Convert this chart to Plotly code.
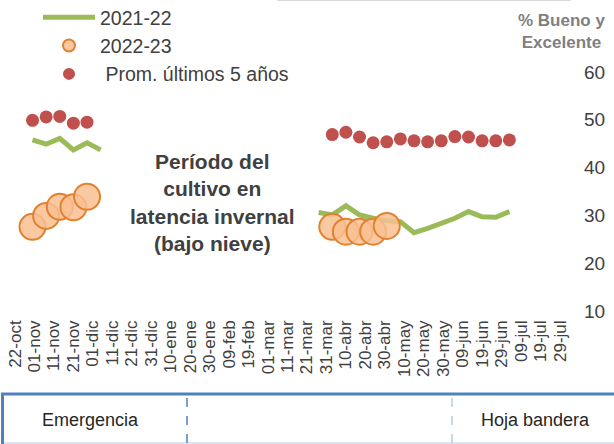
import pandas as pd
import plotly.graph_objects as go

# ---------------- data ----------------
tick_dates = ["2022-10-22", "2022-11-01", "2022-11-11", "2022-11-21", "2022-12-01", "2022-12-11",
              "2022-12-21", "2022-12-31", "2023-01-10", "2023-01-20", "2023-01-30", "2023-02-09",
              "2023-02-19", "2023-03-01", "2023-03-11", "2023-03-21", "2023-03-31", "2023-04-10",
              "2023-04-20", "2023-04-30", "2023-05-10", "2023-05-20", "2023-05-30", "2023-06-09",
              "2023-06-19", "2023-06-29", "2023-07-09", "2023-07-19", "2023-07-29"]
tick_labels = ["22-oct", "01-nov", "11-nov", "21-nov", "01-dic", "11-dic", "21-dic", "31-dic",
               "10-ene", "20-ene", "30-ene", "09-feb", "19-feb", "01-mar", "11-mar", "21-mar",
               "31-mar", "10-abr", "20-abr", "30-abr", "10-may", "20-may", "30-may", "09-jun",
               "19-jun", "29-jun", "09-jul", "19-jul", "29-jul"]

# 2021-22 (green line)
green_fall_dates = ["2022-10-31", "2022-11-07", "2022-11-14", "2022-11-21", "2022-11-28", "2022-12-05"]
green_fall = [45.8, 44.9, 46.1, 43.7, 45.2, 43.7]
green_spring_dates = ["2023-03-27", "2023-04-03", "2023-04-10", "2023-04-17", "2023-04-24",
                      "2023-05-01", "2023-05-08", "2023-05-15", "2023-05-22", "2023-05-29",
                      "2023-06-05", "2023-06-12", "2023-06-19", "2023-06-26", "2023-07-03"]
green_spring = [30.6, 30.1, 32.0, 30.1, 29.4, 28.9, 28.7, 26.4, 27.3, 28.4, 29.4, 30.8, 29.7, 29.6, 30.8]

# 2022-23 (orange circles)
orange_fall_dates = ["2022-10-31", "2022-11-07", "2022-11-14", "2022-11-21", "2022-11-28"]
orange_fall = [27.6, 29.9, 31.8, 31.7, 33.9]
orange_spring_dates = ["2023-04-03", "2023-04-10", "2023-04-17", "2023-04-24", "2023-05-01"]
orange_spring = [27.6, 26.6, 26.6, 26.6, 27.8]

# Prom. últimos 5 años (red dots)
red_fall_dates = ["2022-10-31", "2022-11-07", "2022-11-14", "2022-11-21", "2022-11-28"]
red_fall = [49.9, 50.6, 50.7, 49.3, 49.5]
red_spring_dates = ["2023-04-03", "2023-04-10", "2023-04-17", "2023-04-24", "2023-05-01",
                    "2023-05-08", "2023-05-15", "2023-05-22", "2023-05-29", "2023-06-05",
                    "2023-06-12", "2023-06-19", "2023-06-26", "2023-07-03"]
red_spring = [46.9, 47.4, 46.4, 45.2, 45.4, 46.0, 45.6, 45.4, 45.6, 46.5, 46.4, 45.6, 45.6, 45.8]

y_ticks = [10, 20, 30, 40, 50, 60]

# ---------------- layout helpers ----------------
W, H = 614, 444
PL, PR, PT, PB = 5, 575, 72, 311      # plot area in pixels
SANS = "Liberation Sans, Arial, sans-serif"


def px(x):
    return (x - PL) / (PR - PL)


def py(y):
    return (PB - y) / (PB - PT)


# x range: first tick at 15px, last tick at 560px
t0 = pd.Timestamp(tick_dates[0])
t1 = pd.Timestamp(tick_dates[-1])
span_days = (t1 - t0) / pd.Timedelta(days=1)
ppd = (560 - 15) / span_days
x_start = t0 - pd.Timedelta(days=(15 - PL) / ppd)
x_end = t0 + pd.Timedelta(days=(PR - 15) / ppd)

GREEN = "#9BBB59"
ORANGE_FILL = "rgba(249,192,146,0.85)"
ORANGE_LINE = "#E0822F"
RED = "#C0504D"

fig = go.Figure()

fig.add_trace(go.Scatter(x=green_fall_dates, y=green_fall, mode="lines", name="2021-22",
                         legendgroup="g", line=dict(color=GREEN, width=5)))
fig.add_trace(go.Scatter(x=green_spring_dates, y=green_spring, mode="lines", name="2021-22",
                         legendgroup="g", showlegend=False, line=dict(color=GREEN, width=5)))

fig.add_trace(go.Scatter(x=orange_fall_dates, y=orange_fall, mode="markers", name="2022-23",
                         legendgroup="o",
                         marker=dict(size=26, color=ORANGE_FILL, line=dict(color=ORANGE_LINE, width=2))))
fig.add_trace(go.Scatter(x=orange_spring_dates, y=orange_spring, mode="markers", name="2022-23",
                         legendgroup="o", showlegend=False,
                         marker=dict(size=26, color=ORANGE_FILL, line=dict(color=ORANGE_LINE, width=2))))

fig.add_trace(go.Scatter(x=red_fall_dates, y=red_fall, mode="markers", name=" Prom. últimos 5 años",
                         legendgroup="r", marker=dict(size=13, color=RED)))
fig.add_trace(go.Scatter(x=red_spring_dates, y=red_spring, mode="markers", name=" Prom. últimos 5 años",
                         legendgroup="r", showlegend=False, marker=dict(size=13, color=RED)))

shapes = [
    # faint line at top
    dict(type="line", xref="paper", yref="paper", x0=px(277), x1=px(571), y0=py(0.5), y1=py(0.5),
         line=dict(color="#D9D9D9", width=1)),
    # bottom phase band
    dict(type="line", xref="paper", yref="paper", x0=px(1), x1=px(620), y0=py(394), y1=py(394),
         line=dict(color="#4F81BD", width=3)),
    dict(type="line", xref="paper", yref="paper", x0=px(2.5), x1=px(2.5), y0=py(393), y1=py(450),
         line=dict(color="#4F81BD", width=3)),
    dict(type="line", xref="paper", yref="paper", x0=px(4), x1=px(620), y0=py(443), y1=py(443),
         line=dict(color="#B8CCE4", width=1)),
    dict(type="line", xref="paper", yref="paper", x0=px(187), x1=px(187), y0=py(398), y1=py(450),
         line=dict(color="#4F81BD", width=1.5, dash="dash")),
    dict(type="line", xref="paper", yref="paper", x0=px(452), x1=px(452), y0=py(398), y1=py(450),
         line=dict(color="#B8CCE4", width=1.5, dash="dash")),
]

annotations = [
    dict(text="Período del<br>cultivo en<br>latencia invernal<br>(bajo nieve)", xref="paper", yref="paper",
         x=px(212), y=py(203), showarrow=False, xanchor="center", yanchor="middle", align="center",
         font=dict(family=SANS, size=21, color="#404040", weight="bold")),
    dict(text="% Bueno y<br>Excelente", xref="paper", yref="paper", x=px(561), y=py(31),
         showarrow=False, xanchor="center", yanchor="middle", align="center",
         font=dict(family=SANS, size=17, color="#7F7F7F", weight="bold")),
    dict(text="Emergencia", xref="paper", yref="paper", x=px(90), y=py(420), showarrow=False,
         xanchor="center", yanchor="middle", font=dict(family=SANS, size=18, color="#262626")),
    dict(text="Hoja bandera", xref="paper", yref="paper", x=px(535), y=py(420), showarrow=False,
         xanchor="center", yanchor="middle", font=dict(family=SANS, size=18, color="#262626")),
]

fig.update_layout(
    width=W, height=H,
    margin=dict(l=PL, r=W - PR, t=PT, b=H - PB, pad=0, autoexpand=False),
    paper_bgcolor="white", plot_bgcolor="white",
    showlegend=True,
    legend=dict(x=px(38), y=py(-2), xanchor="left", yanchor="top", orientation="v",
                font=dict(family=SANS, size=19.5, color="#404040"),
                bgcolor="rgba(0,0,0,0)", borderwidth=0, itemwidth=52, itemsizing="constant",
                tracegroupgap=0),
    xaxis=dict(type="date", range=[x_start, x_end], tickmode="array", tickvals=tick_dates,
               ticktext=tick_labels, tickangle=-90, showgrid=False, zeroline=False, showline=False,
               ticks="", ticklabelstandoff=5, tickfont=dict(family=SANS, size=17, color="#404040"),
               fixedrange=True, automargin=False),
    yaxis=dict(side="right", range=[10, 60], tickmode="array", tickvals=y_ticks, showgrid=False,
               zeroline=False, showline=False, ticks="", ticklabelstandoff=8,
               tickfont=dict(family=SANS, size=19, color="#404040"), fixedrange=True,
               automargin=False),
    shapes=shapes, annotations=annotations,
)

fig.write_html("out.html", config={"displayModeBar": False},
               post_script="document.body.style.margin='0px';")
